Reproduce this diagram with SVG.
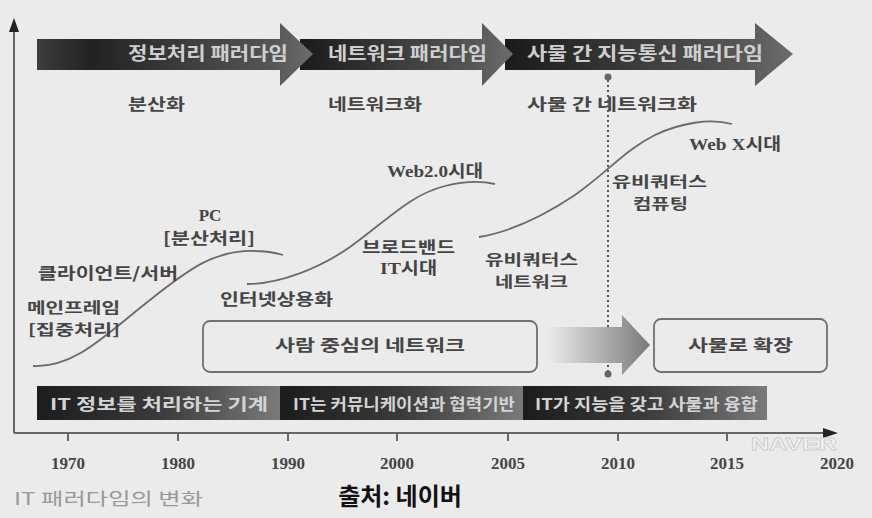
<svg xmlns="http://www.w3.org/2000/svg" width="872" height="518" viewBox="0 0 872 518">
<defs>
<linearGradient id="gTop" x1="0" y1="0" x2="1" y2="0">
<stop offset="0" stop-color="#1a1a1a"/><stop offset="0.8" stop-color="#555"/><stop offset="1" stop-color="#6c6c6c"/>
</linearGradient>
<linearGradient id="gTop1" x1="0" y1="0" x2="1" y2="0">
<stop offset="0" stop-color="#3c3c3c"/><stop offset="0.2" stop-color="#222"/><stop offset="0.85" stop-color="#555"/><stop offset="1" stop-color="#6c6c6c"/>
</linearGradient>
<linearGradient id="gBot" x1="0" y1="0" x2="1" y2="0">
<stop offset="0" stop-color="#1c1c1c"/><stop offset="0.5" stop-color="#3a3a3a"/><stop offset="1" stop-color="#7a7a7a"/>
</linearGradient>
<linearGradient id="gMid" x1="0" y1="0" x2="1" y2="0">
<stop offset="0" stop-color="#ebebeb"/><stop offset="1" stop-color="#7a7a7a"/>
</linearGradient>
<style>
.k{font-family:"Noto Sans CJK KR","Noto Sans",sans-serif;font-weight:bold}
.band{fill:#cfcfcf;font-size:18px}
.bband{fill:#d4d4d4;font-size:16px}
.lbl{fill:#454545;font-size:16px}
.st{font-size:15px}
.ser{font-family:"Liberation Serif","Noto Sans CJK KR",serif;font-weight:bold;fill:#444}
.yr{font-size:17px;text-anchor:middle}
.box{fill:none;stroke:#707070;stroke-width:1.8}
.curve{fill:none;stroke:#6a6a6a;stroke-width:1.8}
.axis{stroke:#666;stroke-width:2;fill:none}
</style>
</defs>
<rect x="0" y="0" width="872" height="518" fill="#ebebeb"/>

<g id="axes">
<line class="axis" x1="14" y1="30" x2="14" y2="433"/>
<polygon points="14,18 9,32 19,32" fill="#222"/>
<line class="axis" x1="14" y1="433" x2="826" y2="433"/>
<polygon points="838,433 823,428 823,438" fill="#222"/>
<g stroke="#666" stroke-width="2">
<line x1="68" y1="433" x2="68" y2="441"/><line x1="178" y1="433" x2="178" y2="441"/><line x1="288" y1="433" x2="288" y2="441"/><line x1="397" y1="433" x2="397" y2="441"/><line x1="508" y1="433" x2="508" y2="441"/><line x1="618" y1="433" x2="618" y2="441"/><line x1="727" y1="433" x2="727" y2="441"/>
</g>
<g class="ser yr">
<text x="68" y="469">1970</text><text x="178" y="469">1980</text><text x="288" y="469">1990</text><text x="397" y="469">2000</text><text x="508" y="469">2005</text><text x="618" y="469">2010</text><text x="727" y="469">2015</text><text x="837" y="469">2020</text>
</g>
<text x="751" y="450" font-family="Liberation Sans,sans-serif" font-weight="bold" font-size="16" fill="#f7f7f7" stroke="#cfcfcf" stroke-width="0.8" textLength="86" lengthAdjust="spacingAndGlyphs">NAVER</text>
</g>

<g id="top-paradigm-3">
<polygon points="505,39 755,39 755,23 793,54 755,86 755,70 505,70" fill="url(#gTop)"/>
<text class="k band" x="527" y="60" textLength="236" lengthAdjust="spacingAndGlyphs">사물 간 지능통신 패러다임</text>
</g>
<g id="top-paradigm-2">
<polygon points="300,39 482,39 482,23 513,54 482,86 482,70 300,70" fill="url(#gTop)"/>
<text class="k band" x="328" y="60" textLength="159" lengthAdjust="spacingAndGlyphs">네트워크 패러다임</text>
</g>
<g id="top-paradigm-1">
<polygon points="37,39 280,39 280,23 313,54 280,86 280,70 37,70" fill="url(#gTop1)"/>
<text class="k band" x="128" y="60" textLength="160" lengthAdjust="spacingAndGlyphs">정보처리 패러다임</text>
</g>

<g id="era-labels" class="k lbl">
<text x="128" y="110" textLength="57" lengthAdjust="spacingAndGlyphs">분산화</text>
<text x="328" y="110" textLength="94" lengthAdjust="spacingAndGlyphs">네트워크화</text>
<text x="527" y="110" textLength="170" lengthAdjust="spacingAndGlyphs">사물 간 네트워크화</text>
</g>

<g id="divider">
<line x1="608" y1="80" x2="608" y2="372" stroke="#555" stroke-width="2" stroke-dasharray="2,3"/>
<circle cx="608" cy="77" r="3.5" fill="#666"/>
<circle cx="608" cy="374" r="3.5" fill="#666"/>
</g>

<g id="curves">
<path class="curve" d="M33,366 C75,368 105,335 150,300 C190,268 215,250 255,251 C268,251 276,253 283,255"/>
<path class="curve" d="M247,284 C280,284 320,268 350,247 C390,218 410,195 445,186 C465,181 482,181 495,184"/>
<path class="curve" d="M479,237 C510,232 545,215 575,195 C610,170 625,150 655,135 C680,123 710,118 732,124"/>
</g>

<g id="stage-labels">
<text class="ser" x="210" y="221" font-size="17" text-anchor="middle">PC</text>
<text class="k lbl" x="163" y="244" textLength="92" lengthAdjust="spacingAndGlyphs">[분산처리]</text>
<text class="k lbl" x="38" y="279" textLength="140" lengthAdjust="spacingAndGlyphs">클라이언트/서버</text>
<text class="k lbl st" x="27" y="313" textLength="93" lengthAdjust="spacingAndGlyphs">메인프레임</text>
<text class="k lbl st" x="28" y="335" textLength="92" lengthAdjust="spacingAndGlyphs">[집중처리]</text>
<text class="k lbl" x="220" y="305" textLength="113" lengthAdjust="spacingAndGlyphs">인터넷상용화</text>
<text class="ser" x="387" y="177" font-size="17" textLength="96" lengthAdjust="spacingAndGlyphs">Web2.0시대</text>
<text class="k lbl" x="362" y="253" textLength="93" lengthAdjust="spacingAndGlyphs">브로드밴드</text>
<text class="ser" x="380" y="274" font-size="17" textLength="57" lengthAdjust="spacingAndGlyphs">IT시대</text>
<text class="k lbl st" x="485" y="265" textLength="93" lengthAdjust="spacingAndGlyphs">유비쿼터스</text>
<text class="k lbl st" x="495" y="287" textLength="73" lengthAdjust="spacingAndGlyphs">네트워크</text>
<text class="k lbl st" x="612" y="187" textLength="95" lengthAdjust="spacingAndGlyphs">유비쿼터스</text>
<text class="k lbl st" x="633" y="209" textLength="55" lengthAdjust="spacingAndGlyphs">컴퓨팅</text>
<text class="ser" x="689" y="150" font-size="17" textLength="92" lengthAdjust="spacingAndGlyphs">Web X시대</text>
</g>

<g id="box-people">
<rect class="box" x="203" y="321" width="334" height="51" rx="7"/>
<text class="k lbl" x="275" y="351" font-size="17" textLength="190" lengthAdjust="spacingAndGlyphs">사람 중심의 네트워크</text>
</g>
<g id="arrow-mid">
<polygon points="548,327 622,327 622,315 650,345 622,375 622,363 548,363" fill="url(#gMid)"/>
</g>
<g id="box-things">
<rect class="box" x="654" y="319" width="173" height="53" rx="7"/>
<text class="k lbl" x="688" y="351" font-size="17" textLength="105" lengthAdjust="spacingAndGlyphs">사물로 확장</text>
</g>

<g id="bottom-band-1">
<rect x="37" y="386" width="243" height="34" fill="url(#gBot)"/>
<text class="k bband" x="50" y="410" textLength="218" lengthAdjust="spacingAndGlyphs">IT 정보를 처리하는 기계</text>
</g>
<g id="bottom-band-2">
<rect x="280" y="386" width="243" height="34" fill="url(#gBot)"/>
<text class="k bband" x="293" y="410" textLength="222" lengthAdjust="spacingAndGlyphs">IT는 커뮤니케이션과 협력기반</text>
</g>
<g id="bottom-band-3">
<rect x="523" y="386" width="244" height="34" fill="url(#gBot)"/>
<text class="k bband" x="535" y="410" textLength="223" lengthAdjust="spacingAndGlyphs">IT가 지능을 갖고 사물과 융합</text>
</g>

<g id="captions">
<text x="14" y="505" font-family="Noto Sans CJK KR,Noto Sans,sans-serif" font-size="17" fill="#999" textLength="189" lengthAdjust="spacingAndGlyphs">IT 패러다임의 변화</text>
<text x="400" y="505" font-family="Noto Sans CJK KR,Noto Sans,sans-serif" font-weight="bold" font-size="24" fill="#111" text-anchor="middle">출처: 네이버</text>
</g>
</svg>
